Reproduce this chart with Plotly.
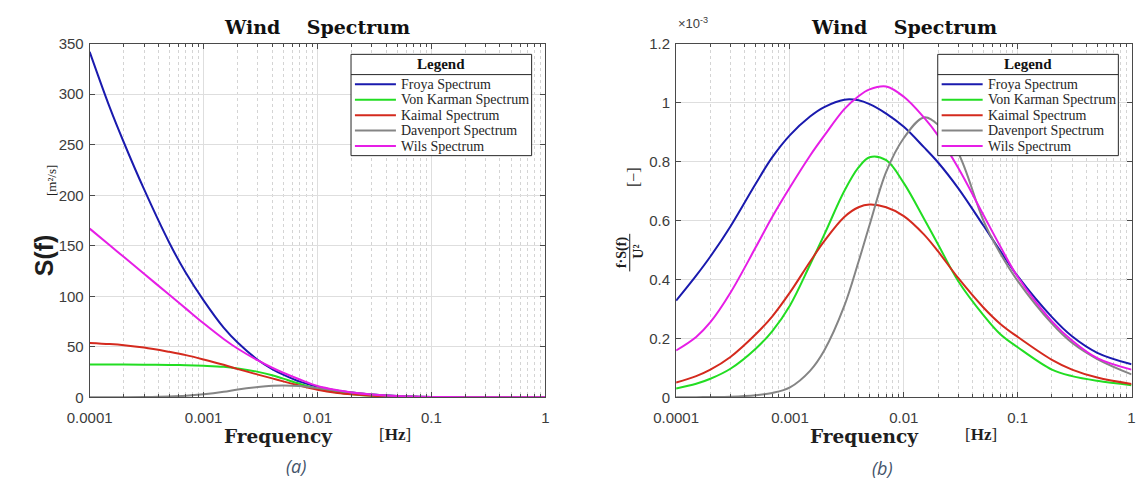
import plotly.graph_objects as go

W, H = 1137, 483

# ---------------- data ----------------
series_names = ["Froya Spectrum", "Von Karman Spectrum", "Kaimal Spectrum",
                "Davenport Spectrum", "Wils Spectrum"]

# frequencies [Hz] at which the curves were read
freq = [1e-4, 1.5e-4, 2e-4, 3e-4, 5e-4, 7e-4, 1e-3, 1.5e-3, 2e-3, 3e-3, 4e-3, 5e-3, 7e-3,
        1e-2, 1.5e-2, 2e-2, 3e-2, 5e-2, 7e-2, 0.1, 0.2, 0.3, 0.5, 1.0]

# (a) spectral density S(f) [m^2/s]
froya_S = [342, 287, 252, 206, 153, 123, 96, 69, 54, 37, 28, 22.5, 15.5,
           10.5, 6.6, 4.7, 2.7, 1.3, 0.8, 0.45, 0.15, 0.08, 0.035, 0.012]
vonkarman_S = [32.5, 32.5, 32.4, 32.3, 32.1, 31.8, 31.2, 30.2, 28.6, 25.2, 21.8, 18.5, 13.3,
               8.4, 4.7, 3.05, 1.5, 0.6, 0.33, 0.18, 0.05, 0.025, 0.012, 0.004]
kaimal_S = [53.8, 52.7, 51.6, 49.3, 45, 41.8, 37.5, 32.2, 27.9, 22.5, 18.8, 15.8, 11.5,
            7.5, 4.4, 2.95, 1.55, 0.65, 0.38, 0.21, 0.066, 0.033, 0.014, 0.005]
davenport_S = [0.05, 0.08, 0.12, 0.3, 0.8, 1.5, 3.0, 5.5, 7.8, 10.2, 11.4, 11.8, 11.2,
               9.2, 6.6, 4.8, 2.85, 1.22, 0.72, 0.41, 0.13, 0.065, 0.027, 0.008]
wils_S = [167, 150.5, 138.8, 122.3, 101.5, 87.8, 73.3, 57.8, 48.1, 36.5, 29.3, 24.3, 17.6,
          11.2, 7.0, 4.9, 2.85, 1.3, 0.8, 0.42, 0.14, 0.07, 0.03, 0.01]

# (b) normalised spectrum f*S(f)/U^2, in units of 1e-3
froya_n = [0.328, 0.413, 0.478, 0.58, 0.725, 0.815, 0.89, 0.953, 0.985, 1.01, 1.008, 0.995, 0.963,
           0.918, 0.849, 0.797, 0.71, 0.583, 0.498, 0.411, 0.272, 0.207, 0.151, 0.112]
vonkarman_n = [0.03, 0.046, 0.063, 0.097, 0.165, 0.225, 0.312, 0.45, 0.552, 0.70, 0.78, 0.815, 0.805,
               0.727, 0.607, 0.519, 0.395, 0.279, 0.215, 0.17, 0.094, 0.072, 0.056, 0.041]
kaimal_n = [0.05, 0.072, 0.094, 0.137, 0.214, 0.275, 0.356, 0.46, 0.53, 0.612, 0.645, 0.654, 0.645,
            0.615, 0.553, 0.495, 0.405, 0.305, 0.25, 0.205, 0.127, 0.094, 0.067, 0.045]
davenport_n = [0.0, 0.0005, 0.001, 0.002, 0.007, 0.015, 0.034, 0.09, 0.159, 0.31, 0.46, 0.585, 0.765,
               0.88, 0.95, 0.925, 0.83, 0.60, 0.49, 0.395, 0.25, 0.185, 0.13, 0.078]
wils_n = [0.159, 0.205, 0.255, 0.355, 0.509, 0.613, 0.713, 0.82, 0.888, 0.978, 1.022, 1.045, 1.055,
          1.02, 0.95, 0.888, 0.779, 0.619, 0.514, 0.409, 0.258, 0.193, 0.133, 0.094]

x_tickvals = [1e-4, 1e-3, 1e-2, 1e-1, 1]
x_ticktext = ["0.0001", "0.001", "0.01", "0.1", "1"]
ya_tickvals = [0, 50, 100, 150, 200, 250, 300, 350]
yb_tickvals = [0, 0.2, 0.4, 0.6, 0.8, 1.0, 1.2]
yb_ticktext = ["0", "0.2", "0.4", "0.6", "0.8", "1", "1.2"]

# ---------------- style ----------------
colors = ["#1a1aae", "#22dd22", "#d42a1e", "#858585", "#e61ee6"]
LW = 2
SERIF_TITLE = "DejaVu Serif"
SERIF = "Liberation Serif"
SANS = "Liberation Sans"
TICK_COLOR = "#3c3c3c"
GRID = "#dedede"
AXLINE = "#4a4a4a"


def px(x):
    return x / W


def py(y):
    return 1 - y / H


# plot areas in pixels
A_X = (68.3, 535.0)
B_X = (669.0, 1135.5)
TOP, BOT = 36.0, 402.5

fig = go.Figure()

data_a = [froya_S, vonkarman_S, kaimal_S, davenport_S, wils_S]
data_b = [froya_n, vonkarman_n, kaimal_n, davenport_n, wils_n]

for name, c, ys in zip(series_names, colors, data_a):
    fig.add_trace(go.Scatter(x=freq, y=ys, mode="lines", name=name, xaxis="x", yaxis="y",
                             line=dict(color=c, width=LW, shape="spline", smoothing=1.0),
                             showlegend=False))
for name, c, ys in zip(series_names, colors, data_b):
    fig.add_trace(go.Scatter(x=freq, y=ys, mode="lines", name=name, xaxis="x2", yaxis="y2",
                             line=dict(color=c, width=LW, shape="spline", smoothing=1.0),
                             showlegend=False))

tickfont = dict(family=SANS, size=15, color=TICK_COLOR)

xaxis_common = dict(
    type="log", range=[-4, 0], tickmode="array", tickvals=x_tickvals, ticktext=x_ticktext,
    showgrid=True, gridcolor=GRID, gridwidth=1,
    minor=dict(tickmode="array",
               tickvals=[m * 10 ** e for e in (-4, -3, -2, -1) for m in range(2, 10)],
               showgrid=True, gridcolor="#d4d4d4", griddash="dot", gridwidth=1,
               ticks="inside", ticklen=3, tickcolor=AXLINE),
    ticks="inside", ticklen=5, tickcolor=AXLINE,
    showline=True, linecolor=AXLINE, linewidth=1, mirror="allticks",
    zeroline=False, tickfont=tickfont, ticklabelstandoff=7,
)
yaxis_common = dict(
    showgrid=True, gridcolor=GRID, gridwidth=1, zeroline=False,
    ticks="inside", ticklen=5, tickcolor=AXLINE,
    showline=True, linecolor=AXLINE, linewidth=1, mirror="allticks",
    tickfont=tickfont, ticklabelstandoff=2,
)

fig.update_layout(
    width=W, height=H, autosize=False,
    margin=dict(l=0, r=0, t=0, b=0),
    paper_bgcolor="white", plot_bgcolor="white",
    xaxis=dict(domain=[px(A_X[0]), px(A_X[1])], anchor="y", **xaxis_common),
    yaxis=dict(domain=[py(BOT), py(TOP)], anchor="x", range=[0, 350],
               tickmode="array", tickvals=ya_tickvals, **yaxis_common),
    xaxis2=dict(domain=[px(B_X[0]), px(B_X[1])], anchor="y2", **xaxis_common),
    yaxis2=dict(domain=[py(BOT), py(TOP)], anchor="x2", range=[0, 1.2],
                tickmode="array", tickvals=yb_tickvals, ticktext=yb_ticktext, **yaxis_common),
)

annotations = []
shapes = []


def ann(text, x, y, size, family, color="#1a1a1a", angle=0, xanchor="center", yanchor="middle"):
    annotations.append(dict(text=text, x=px(x), y=py(y), xref="paper", yref="paper",
                            showarrow=False, textangle=angle, xanchor=xanchor, yanchor=yanchor,
                            font=dict(family=family, size=size, color=color)))


for (x0, x1) in (A_X, B_X):
    cx = (x0 + x1) / 2
    ann("<b>Wind\u00a0\u00a0\u00a0\u00a0Spectrum</b>", cx, 19, 19, SERIF_TITLE, "#111111")
    ann("<b>Frequency</b>", cx - 40, 443, 18.5, SERIF_TITLE, "#1e1e1e")
    ann("[<b>Hz</b>]", cx + 79, 441, 17, SERIF, "#1e1e1e")

# y labels
ann("<b>S(f)</b>", 21.7, 255, 25, SANS, "#1e1e1e", angle=-90)
ann("[m²/s]", 29, 178, 13, SERIF, "#1e1e1e", angle=-90)
ann("[\u2212]", 626, 174, 16, SERIF, "#1e1e1e", angle=-90)
ann("<b>f·S(f)</b>", 613.5, 252, 14, SERIF, "#1e1e1e", angle=-90)
ann("<b>U²</b>", 630.5, 252, 14, SERIF, "#1e1e1e", angle=-90)
shapes.append(dict(type="line", xref="paper", yref="paper", x0=px(621.5), x1=px(621.5),
                   y0=py(233), y1=py(272), line=dict(color="#1e1e1e", width=1)))
ann("×10<sup>-3</sup>", 669, 15, 13, SANS, TICK_COLOR, xanchor="left")

# captions
ann("<i>(a)</i>", 280, 474, 18, "Open Sans", "#44546A")
ann("<i>(b)</i>", 880, 476, 18, "Open Sans", "#44546A")


# legends (drawn manually to reproduce the boxed header)
def legend(x0, y0):
    w, h = 185, 105
    shapes.append(dict(type="rect", xref="paper", yref="paper",
                       x0=px(x0), x1=px(x0 + w), y0=py(y0), y1=py(y0 + h),
                       fillcolor="white", line=dict(color="#262626", width=1), layer="above"))
    shapes.append(dict(type="line", xref="paper", yref="paper",
                       x0=px(x0), x1=px(x0 + w), y0=py(y0 + 21), y1=py(y0 + 21),
                       line=dict(color="#262626", width=1), layer="above"))
    ann("<b>Legend</b>", x0 + w / 2, y0 + 10.5, 15, SERIF, "#111111")
    for i, (name, c) in enumerate(zip(series_names, colors)):
        yy = y0 + 31 + 16 * i
        shapes.append(dict(type="line", xref="paper", yref="paper",
                           x0=px(x0 + 4), x1=px(x0 + 46), y0=py(yy), y1=py(yy),
                           line=dict(color=c, width=LW), layer="above"))
        ann(name, x0 + 49, yy, 14, SERIF, "#262626", xanchor="left")


legend(336, 47)
legend(937, 47)

fig.update_layout(annotations=annotations, shapes=shapes)
fig.write_html("out.html")
